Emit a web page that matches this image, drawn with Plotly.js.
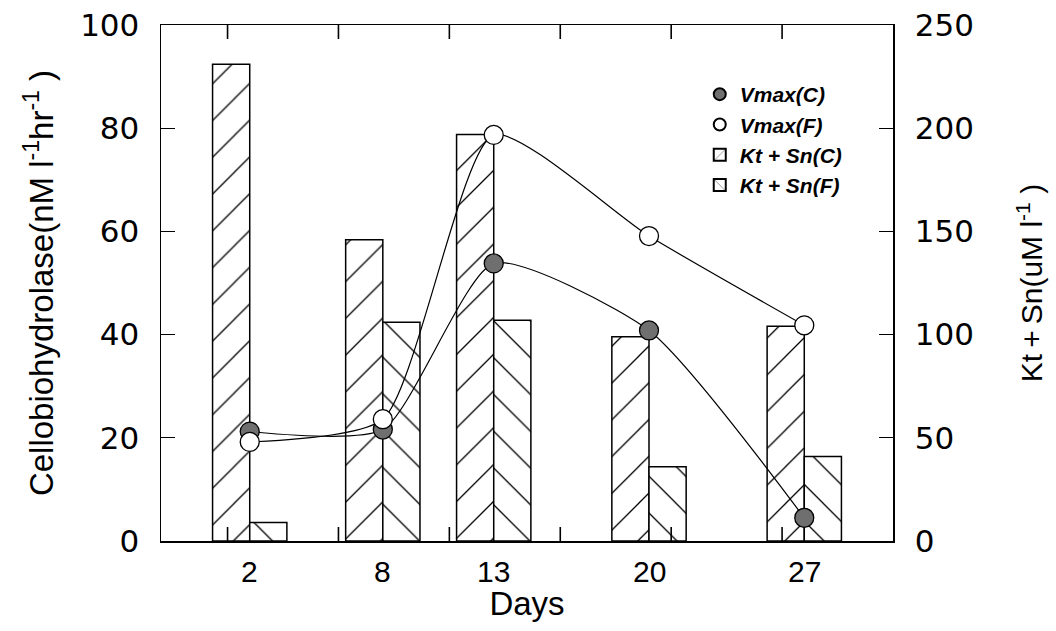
<!DOCTYPE html>
<html>
<head>
<meta charset="utf-8">
<script src="https://cdn.plot.ly/plotly-3.0.1.min.js"></script>
<style>html,body{margin:0;padding:0;background:#fff;}#chart{width:1056px;height:631px;}</style>
</head>
<body>
<div id="chart"></div>
<script>
// Data
const days = [2, 8, 13, 20, 27];
const dayLabels = ['2', '8', '13', '20', '27'];
const vmaxC = [21.2, 21.6, 53.8, 40.8, 4.5];
const vmaxF = [19.2, 23.6, 78.7, 59.1, 41.8];
const ktsnC = [231, 146, 197, 99, 104];
const ktsnF = [9, 106, 107, 36, 41];
// unlabelled x tick marks (every 5 days from day 1)
const xTickMarks = [1, 6, 11, 16, 21, 26];

const FONT = 'Liberation Sans, Arial, Helvetica, sans-serif';
const WIDE = 'DejaVu Sans, Verdana, sans-serif';
const TICK_FRAC = 14 / 516; // tick length as a fraction of plot height

const traces = [
  {
    type: 'bar', name: 'Kt + Sn(C)', x: days, y: ktsnC, xaxis: 'x', yaxis: 'y',
    marker: {color: '#ffffff', line: {color: '#000', width: 1.5},
      pattern: {shape: '/', fgcolor: '#000', bgcolor: '#fff', size: 26, solidity: 0.05}},
    legendrank: 3
  },
  {
    type: 'bar', name: 'Kt + Sn(F)', x: days, y: ktsnF, xaxis: 'x', yaxis: 'y',
    marker: {color: '#ffffff', line: {color: '#000', width: 1.5},
      pattern: {shape: '\\', fgcolor: '#000', bgcolor: '#fff', size: 26, solidity: 0.05}},
    legendrank: 4
  },
  {
    type: 'scatter', mode: 'lines', x: days, y: vmaxC, xaxis: 'x', yaxis: 'y2',
    line: {color: '#000', width: 1.2, shape: 'spline', smoothing: 0.6}, showlegend: false, hoverinfo: 'skip'
  },
  {
    type: 'scatter', mode: 'lines', x: days, y: vmaxF, xaxis: 'x', yaxis: 'y2',
    line: {color: '#000', width: 1.2, shape: 'spline', smoothing: 0.6}, showlegend: false, hoverinfo: 'skip'
  },
  {
    type: 'scatter', mode: 'markers', name: 'Vmax(C)', x: days, y: vmaxC, xaxis: 'x', yaxis: 'y2',
    marker: {size: 19, color: '#6f6f6f', line: {color: '#000', width: 1.3}},
    legendrank: 1
  },
  {
    type: 'scatter', mode: 'markers', name: 'Vmax(F)', x: days, y: vmaxF, xaxis: 'x', yaxis: 'y2',
    marker: {size: 19, color: '#ffffff', line: {color: '#000', width: 1.3}},
    legendrank: 2
  }
];

// day labels placed under the bars through the x scale
const dayAnnotations = days.map((d, i) => ({
  x: d, xref: 'x', y: 0, yref: 'paper', yanchor: 'top', yshift: -12,
  text: dayLabels[i], showarrow: false, font: {family: FONT, size: 30, color: '#000'}
}));

// inward tick marks on bottom and top frame, positioned through the x scale
const tickShapes = [];
xTickMarks.forEach(v => {
  tickShapes.push({type: 'line', xref: 'x', yref: 'paper', layer: 'above',
    x0: v, x1: v, y0: 0, y1: TICK_FRAC, line: {color: '#000000', width: 1.6}});
  tickShapes.push({type: 'line', xref: 'x', yref: 'paper', layer: 'above',
    x0: v, x1: v, y0: 1, y1: 1 - TICK_FRAC, line: {color: '#000000', width: 1.6}});
});

const layout = {
  width: 1056, height: 631,
  paper_bgcolor: '#fff', plot_bgcolor: '#fff',
  margin: {l: 161, r: 163, t: 25, b: 90},
  font: {family: FONT, color: '#000', size: 30},
  barmode: 'group', bargap: 0.33, bargroupgap: 0,
  xaxis: {
    range: [-2, 31], showticklabels: false, ticks: '',
    showline: true, mirror: true, linecolor: '#000', linewidth: 1.5,
    showgrid: false, zeroline: false,
    title: {text: 'Days', font: {family: FONT, size: 33}, standoff: 50}
  },
  yaxis: {
    side: 'right', anchor: 'x', range: [0, 250], dtick: 50,
    ticks: 'inside', ticklen: 14, tickwidth: 1.3, tickcolor: '#000',
    showline: true, linecolor: '#000', linewidth: 1.5, showgrid: false, zeroline: false,
    tickfont: {family: WIDE, size: 31}, ticklabelstandoff: 14,
    title: {text: 'Kt\u2009+\u2009Sn(uM l<sup>-1</sup> )', font: {family: FONT, size: 30}, standoff: 48}
  },
  yaxis2: {
    side: 'left', overlaying: 'y', anchor: 'x', range: [0, 100], dtick: 20,
    ticks: 'inside', ticklen: 14, tickwidth: 1.3, tickcolor: '#000',
    showline: true, linecolor: '#000', linewidth: 1.5, showgrid: false, zeroline: false,
    tickfont: {family: WIDE, size: 31}, ticklabelstandoff: 14,
    title: {text: 'Cellobiohydrolase(nM l<sup>-1</sup>hr<sup>-1</sup> )', font: {family: FONT, size: 33}, standoff: 16}
  },
  annotations: dayAnnotations,
  shapes: tickShapes,
  legend: {
    x: 0.736, y: 0.905, xanchor: 'left', yanchor: 'top',
    bgcolor: 'rgba(0,0,0,0)', borderwidth: 0,
    font: {family: 'Liberation Sans, Arial, sans-serif', size: 21, weight: 'bold', style: 'italic', color: '#000'},
    tracegroupgap: 0, itemsizing: 'constant'
  },
  showlegend: true
};

Plotly.newPlot('chart', traces, layout, {displayModeBar: false, staticPlot: true});
</script>
</body>
</html>
